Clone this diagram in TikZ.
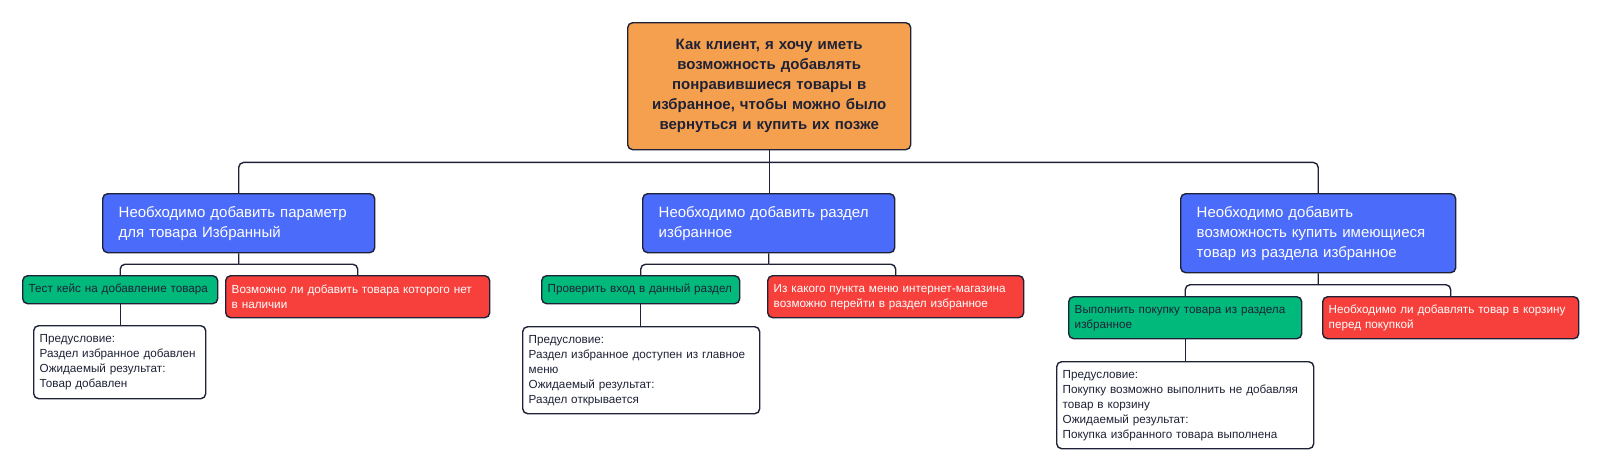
\documentclass[tikz,border=0pt]{standalone}
\usepackage{fontspec}
\setmainfont{Liberation Sans}
\usetikzlibrary{calc}
\definecolor{storyorange}{HTML}{F5A04F}
\definecolor{needblue}{HTML}{4B6BFA}
\definecolor{checkgreen}{HTML}{00B97B}
\definecolor{askred}{HTML}{F7403B}
\definecolor{inkdark}{HTML}{1F2236}

\tikzset{
  card/.style={draw=inkdark, line width=1.4pt, rounded corners=5pt, anchor=north west, align=left, inner ysep=0pt},
  goalcard/.style={card, fill=storyorange, inner xsep=8pt, align=center, text=inkdark, font=\bfseries\fontsize{15}{20}\selectfont},
  needcard/.style={card, fill=needblue, inner xsep=16pt, text=white, font=\fontsize{15}{20}\selectfont},
  checkcard/.style={card, fill=checkgreen, inner xsep=6pt, text=inkdark, font=\fontsize{11.7}{15}\selectfont},
  askcard/.style={card, fill=askred, inner xsep=6pt, text=white, font=\fontsize{11.7}{15}\selectfont},
  notecard/.style={card, fill=white, inner xsep=6pt, text=inkdark, font=\fontsize{11.7}{15}\selectfont},
  link/.style={draw=inkdark, line width=1.4pt, rounded corners=5pt}
}

\begin{document}
\begin{tikzpicture}[x=1pt,y=1pt]
  \useasboundingbox (0,0) rectangle (1600,-467);
  % user story
  \node[goalcard, text width=267pt, minimum height=127pt] (goal) at (627,-22)
    {Как клиент, я хочу иметь\\ возможность добавлять\\ понравившиеся товары в\\ избранное, чтобы можно было\\ вернуться и купить их позже};
  % requirements
  \node[needcard, text width=240pt, minimum height=59pt] (need1) at (102,-193)
    {Необходимо добавить параметр\\ для товара Избранный};
  \node[needcard, text width=220pt, minimum height=59pt] (need2) at (642,-193)
    {Необходимо добавить раздел\\ избранное};
  \node[needcard, text width=243pt, minimum height=79pt] (need3) at (1180,-193)
    {Необходимо добавить\\ возможность купить имеющиеся\\ товар из раздела избранное};
  % test cases and questions
  \node[checkcard, text width=183pt, minimum height=28pt] (check1) at (22,-275)
    {Тест кейс на добавление товара};
  \node[askcard, text width=252pt, minimum height=42pt] (ask1) at (225,-275)
    {Возможно ли добавить товара которого нет\\ в наличии};
  \node[checkcard, text width=186pt, minimum height=28pt] (check2) at (541,-275)
    {Проверить вход в данный раздел};
  \node[askcard, text width=244pt, minimum height=42pt] (ask2) at (767,-275)
    {Из какого пункта меню интернет-магазина\\ возможно перейти в раздел избранное};
  \node[checkcard, text width=221pt, minimum height=42pt] (check3) at (1068,-296)
    {Выполнить покупку товара из раздела\\ избранное};
  \node[askcard, text width=244pt, minimum height=42pt] (ask3) at (1322,-296)
    {Необходимо ли добавлять товар в корзину\\ перед покупкой};
  % conditions and results
  \node[notecard, text width=160pt, minimum height=73pt] (note1) at (33,-325)
    {Предусловие:\\ Раздел избранное добавлен\\ Ожидаемый результат:\\ Товар добавлен};
  \node[notecard, text width=225pt, minimum height=87pt] (note2) at (522,-326)
    {Предусловие:\\ Раздел избранное доступен из главное\\ меню\\ Ожидаемый результат:\\ Раздел открывается};
  \node[notecard, text width=245pt, minimum height=87pt] (note3) at (1056,-361)
    {Предусловие:\\ Покупку возможно выполнить не добавляя\\ товар в корзину\\ Ожидаемый результат:\\ Покупка избранного товара выполнена};
  % connectors
  \draw[link] (goal.south) -- (goal.south |- need2.north);
  \coordinate (topbus) at ($(goal.south)+(0,-12)$);
  \draw[link] (topbus) -| (need1.north);
  \draw[link] (topbus) -| (need3.north);
  \foreach \n in {1,2,3}{
    \draw[link] (need\n.south) -- ($(need\n.south)!0.5!(need\n.south |- check\n.north)$) coordinate (bus\n);
    \draw[link] (bus\n) -| (check\n.north);
    \draw[link] (bus\n) -| (ask\n.north);
    \draw[link] (check\n.south) -- (check\n.south |- note\n.north);
  }
\end{tikzpicture}
\end{document}
